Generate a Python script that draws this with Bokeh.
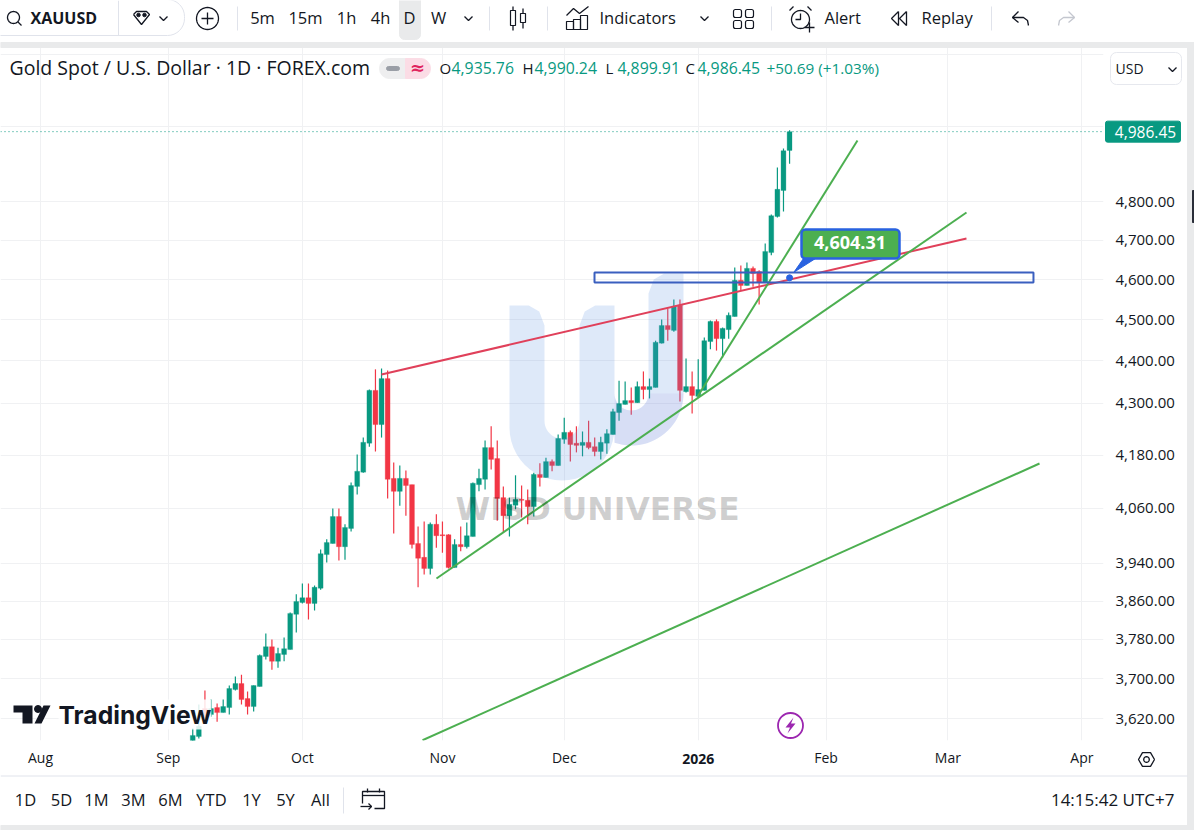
import math
from bokeh.plotting import figure
from bokeh.layouts import column
from bokeh.embed import file_html
from bokeh.resources import INLINE
from bokeh.core.properties import value
from bokeh.models import Range1d, FixedTicker, Label, Span, ColumnDataSource

# ---------- data ----------
first_index = 25
opens = [3573,3585,3640,3628,3642,3632,3642,3678,3690,3660,3644,3684,3745,3765,3735,3749,3759,3832,3857,3867,3855,3887,3959,3983,4042,3976,4016,4109,4141,4207,4330,4250,4358,4127,4098,4127,4113,3983,3953,3929,4025,4002,4002,3931,3981,3976,3998,4113,4125,4197,4172,4084,4044,4067,4080,4078,4064,4136,4129,4165,4156,4216,4232,4207,4202,4209,4199,4188,4207,4227,4278,4297,4306,4301,4339,4332,4337,4443,4486,4474,4536,4327,4339,4316,4330,4447,4496,4454,4476,4508,4598,4585,4628,4620,4593,4668,4761,4829,4935.76]
highs = [3601,3648,3676,3658,3650,3658,3686,3704,3708,3674,3686,3749,3792,3780,3763,3784,3836,3874,3897,3897,3893,3970,3992,4060,4060,4025,4118,4181,4220,4332,4380,4382,4377,4163,4156,4145,4113,4020,4031,4029,4047,4031,4003,3992,4020,4029,4118,4149,4213,4246,4213,4109,4084,4134,4111,4102,4140,4161,4174,4170,4227,4266,4236,4246,4234,4259,4220,4222,4239,4287,4353,4351,4337,4351,4375,4358,4449,4501,4528,4550,4550,4406,4375,4404,4457,4498,4501,4481,4518,4630,4635,4643,4633,4623,4691,4766,4890,4941,4990.24]
lows = [3569,3581,3616,3624,3614,3632,3628,3676,3648,3628,3634,3684,3739,3718,3722,3735,3759,3794,3855,3821,3840,3884,3942,3983,3946,3948,4009,4091,4140,4199,4188,4220,4082,4005,4066,4044,3972,3889,3916,3916,3974,3963,3929,3931,3966,3972,3998,4098,4102,4147,4033,4007,3998,4058,4040,4025,4042,4109,4129,4143,4156,4206,4165,4186,4177,4193,4177,4170,4183,4227,4259,4297,4273,4301,4309,4311,4337,4442,4449,4471,4304,4325,4276,4313,4330,4428,4425,4408,4454,4508,4573,4585,4582,4538,4593,4661,4758,4774,4899.91]
closes = [3587,3605,3624,3640,3632,3644,3680,3690,3658,3644,3686,3747,3765,3735,3751,3761,3834,3859,3867,3855,3889,3961,3985,4042,3976,4018,4111,4143,4209,4330,4250,4358,4125,4098,4127,4111,3981,3951,3929,4025,4000,4000,3931,3981,3976,4000,4116,4127,4197,4170,4082,4044,4069,4080,4078,4064,4136,4129,4165,4156,4218,4232,4204,4202,4209,4197,4188,4209,4229,4280,4299,4306,4301,4339,4332,4339,4445,4486,4476,4533,4330,4339,4318,4332,4449,4496,4454,4479,4511,4598,4585,4628,4615,4593,4671,4763,4832,4935,4986.45]

price_ticks = [5200,5000,4800,4700,4600,4500,4400,4300,4180,4060,3940,3860,3780,3700,3620]
month_labels = ["Aug","Sep","Oct","Nov","Dec","","Feb","Mar","Apr"]
month_index = [0,21,43,66,86,108,129,149,171]
year_label, year_index = "2026", 108

red_line = dict(x=[55.99,152.05], y=[4367.7,4704.0])
green_lines = dict(xs=[[107.9,134.15],[65.02,152.05],[62.73,164.04]],
                   ys=[[4315.6,4962.4],[3907.6,4771.3],[3577.6,4160.7]])
zone = dict(left=90.97, right=163.05, top=4617.6, bottom=4592.5)
marker_index, marker_price = 123, 4604.31
ohlc_parts = [("O","4,935.76",439),("H","4,990.24",522),("L","4,899.91",605),("C","4,986.45",685)]
change_text = "+50.69 (+1.03%)"

UP, DOWN = "#089981", "#f23645"
FONT = "Open Sans"
INK = "#131722"
W, H = 1194, 830

# ---------- page geometry helpers (page pixels <-> chart scales) ----------
FRAME_TOP, FRAME_BOTTOM, FRAME_RIGHT = 47, 740, 1103
STEP, ORIGIN = 6.09, 40
def ix(px): return (px-ORIGIN)/STEP
def pr(py): return 4800*math.exp((201-py)/1833)
def to_px(i): return ORIGIN+STEP*i
def to_py(v): return 201-1833*math.log(v/4800)

# ---------- chart ----------
p = figure(width=W, height=H, y_axis_type="log", y_axis_location="right",
           x_range=Range1d(ix(0), ix(FRAME_RIGHT)),
           y_range=Range1d(pr(FRAME_BOTTOM), pr(FRAME_TOP)),
           toolbar_location=None, output_backend="svg", frame_align=False,
           min_border_left=0, min_border_right=W-FRAME_RIGHT, min_border_top=FRAME_TOP, min_border_bottom=H-FRAME_BOTTOM,
           outline_line_color=None, background_fill_color="white", border_fill_color="white")

idx = list(range(first_index, first_index+len(closes)))
cols = [UP if c >= o else DOWN for o, c in zip(opens, closes)]
src = ColumnDataSource(dict(x=idx, o=opens, h=highs, l=lows, c=closes, col=cols))
p.segment(x0="x", x1="x", y0="l", y1="h", color="col", line_width=1.2, source=src)
p.vbar(x="x", width=0.8, top="o", bottom="c", fill_color="col", line_color="col", line_width=0.3, source=src)

# axes
p.yaxis.ticker = FixedTicker(ticks=price_ticks)
p.yaxis.major_label_overrides = {t: ("" if t == 5200 else f"{t:,.2f}") for t in price_ticks}
p.yaxis.axis_line_color = None
p.yaxis.major_tick_line_color = None
p.yaxis.minor_tick_line_color = None
p.yaxis.major_label_standoff = 6
p.yaxis.major_label_text_font = FONT
p.yaxis.major_label_text_font_size = "15px"
p.yaxis.major_label_text_color = INK
p.xaxis.ticker = FixedTicker(ticks=month_index)
p.xaxis.major_label_overrides = dict(zip(month_index, month_labels))
p.xaxis.axis_line_color = None
p.xaxis.major_tick_line_color = None
p.xaxis.minor_tick_line_color = None
p.xaxis.major_label_standoff = 1
p.xaxis.major_label_text_font = FONT
p.xaxis.major_label_text_font_size = "14px"
p.xaxis.major_label_text_color = INK
p.xgrid.grid_line_color = "#f0f1f3"
p.ygrid.grid_line_color = "#f0f1f3"
p.xgrid.ticker = FixedTicker(ticks=month_index)
p.ygrid.ticker = FixedTicker(ticks=price_ticks)

def poly(pts, fill, alpha=1.0, line=None):
    p.patch(x=[ix(a) for a, b in pts], y=[pr(b) for a, b in pts], fill_color=fill, fill_alpha=alpha,
            line_color=line)

# watermark logo
def arc(cx, cy, rx, ry, t0, t1, n=24):
    return [(cx-rx*math.cos(t0+(t1-t0)*k/n), cy+ry*math.sin(t0+(t1-t0)*k/n)) for k in range(n+1)]
s1 = 35
u1 = [(509,305)] + arc(561.5,427,52.5,53,0,math.pi) + [(614,305),(614-.55*s1,305),(614-.85*s1,311),(579,325)] \
     + arc(561.5,420.5,17.5,17.5,math.pi,0) + [(544,325),(544-.15*s1,311),(544-.45*s1,305)]
t_start = math.acos(17/52)
u2 = arc(631,393,52,52,t_start,math.pi) + [(683,273),(683-.55*s1,273),(683-.85*s1,279),(648,293)] \
     + arc(631,393,17,17,math.pi,0)
u2_low = arc(631,393,52,52,t_start,math.pi) + arc(631,393,17,17,math.pi,0)
poly(u1, "#5a8fe0", 0.2)
poly(u2, "#5a8fe0", 0.2)
poly(u2_low, "#7a50c0", 0.07)
p.add_layout(Label(x=455, y=FRAME_BOTTOM-508, x_units="screen", y_units="screen", text="WISD UNIVERSE",
                   text_font="DejaVu Sans", text_font_size="31.5px", text_font_style="bold",
                   text_color="#000000", text_alpha=0.19, text_baseline="middle"))

# TradingView logo
poly([(13,705),(32,705),(32,723),(22,723),(22,712),(13,712)], "#131722")
poly([(34,723),(43,705),(50,705),(41,723)], "#131722")
p.scatter(x=[ix(37.5)], y=[pr(708.5)], size=7, color="#131722")
p.add_layout(Label(x=58, y=FRAME_BOTTOM-714, x_units="screen", y_units="screen", text="TradingView",
                   text_font="Inter", text_font_size="24.7px", text_font_style="bold", text_color="#131722",
                   text_baseline="middle", background_fill_color="white", background_fill_alpha=0.85))

# drawings
p.line(x="x", y="y", source=ColumnDataSource(red_line), line_color="#e0405a", line_width=2)
p.multi_line(xs="xs", ys="ys", source=ColumnDataSource(green_lines), line_color="#4caf50", line_width=2)
p.quad(fill_alpha=0, line_color="#3a5fbf", line_width=2, **{k: [v] for k, v in zone.items()})

# callout
p.patch(x=[marker_index+0.7, ix(803), ix(815)], y=[marker_price*1.003, pr(258), pr(258)], fill_color="#2962e0", line_color="#2962e0")
p.quad(left=[ix(801)], right=[ix(899)], top=[pr(229)], bottom=[pr(258)], fill_color="#4caf50",
       line_color="#2962e0", line_width=2.5, border_radius=4)
p.scatter(x=[marker_index], y=[marker_price], size=6, color="#2962e0")
p.text(x=[ix(849.5)], y=[pr(241.5)], text=[f"{marker_price:,.2f}"], text_align="center", text_baseline="middle",
       text_font=value(FONT), text_font_size="18px", text_font_style="bold", text_color="white")

# lightning badge
p.scatter(x=[ix(790)], y=[pr(725)], size=25, fill_color="white", line_color="#9c27b0", line_width=1.8)
poly([(793,717),(785,727),(789.5,727),(787,733),(795,723),(790.5,723)], "#9c27b0")

# last price line
p.add_layout(Span(location=closes[-1], dimension="width", line_color=UP, line_dash="1 3", line_width=1))

# ---------- transparent page overlay: toolbars, legend, price tag ----------
o = figure(width=W, height=H, x_range=Range1d(0, W), y_range=Range1d(H, 0), x_axis_type=None, y_axis_type=None,
           toolbar_location=None, output_backend="svg", min_border=0, outline_line_color=None, frame_align=False,
           background_fill_alpha=0, border_fill_alpha=0, margin=(-H, 0, 0, 0))
o.xgrid.visible = False
o.ygrid.visible = False

def ttext(x, y, s, size=16.5, color=INK, align="center", style="normal", font=FONT):
    o.text(x=[x], y=[y], text=[s], text_align=align, text_baseline="middle", text_font=value(font),
           text_font_size=f"{size}px", text_font_style=style, text_color=color)
def seg(pts, color=INK, w=1.3):
    o.line(x=[a for a, b in pts], y=[b for a, b in pts], line_color=color, line_width=w)
def ring(x, y, r, color=INK, w=1.3):
    seg([(x+r*math.cos(2*math.pi*k/40), y+r*math.sin(2*math.pi*k/40)) for k in range(41)], color, w)
def chev(x, y, color=INK): seg([(x-4, y-2), (x, y+2), (x+4, y-2)], color)
def box(l, r, t, b, **kw): o.quad(left=[l], right=[r], top=[t], bottom=[b], **kw)

BAND = "#e9eaeb"
box(0, W, 42, 47, color=BAND)
box(0, W, 825, H, color=BAND)
box(1187, W, 47, H, color=BAND)
box(1192, W, 190, 222, color="#2a2e39")
box(-20, 184, -1, 35, fill_alpha=0, line_color="#e0e3eb", line_width=1, border_radius=17)
box(399, 420, -5, 39, color=BAND, border_radius=5)
seg([(118, 0), (118, 35)], "#e0e3eb", 1)
ring(13, 17, 6); seg([(17.5, 21.5), (21, 25)])
ttext(30, 17, "XAUUSD", size=16, align="left", style="bold")
seg([(133, 14), (136, 11), (146, 11), (149, 14), (141, 24), (133, 14)])
o.scatter(x=[138, 144], y=[14.5, 14.5], size=3.5, color=INK, marker="circle")
chev(163, 18)
ring(207, 18, 11); seg([(201, 18), (213, 18)]); seg([(207, 12), (207, 24)])
for x in [237, 489, 547, 771, 991]:
    seg([(x, 6), (x, 30)], "#e0e3eb", 1)
for s, x in [("5m", 262), ("15m", 305), ("1h", 346), ("4h", 380), ("D", 409), ("W", 438)]:
    ttext(x, 17, s)
chev(468, 18)
# candles icon
box(510, 515, 10, 25, fill_alpha=0, line_color=INK, line_width=1.2)
seg([(512.5, 6), (512.5, 10)]); seg([(512.5, 25), (512.5, 30)])
box(520, 525, 13, 22, fill_alpha=0, line_color=INK, line_width=1.2)
seg([(522.5, 8), (522.5, 13)]); seg([(522.5, 22), (522.5, 28)])
# indicators icon
seg([(566, 15), (573, 8), (579, 13), (588, 6)])
for x0, y0 in [(566, 21), (573, 19), (580, 15)]:
    box(x0, x0+7, y0, 29, fill_alpha=0, line_color=INK, line_width=1.2)
ttext(599, 17, "Indicators", align="left")
chev(704, 18)
# layout icon
for x0, y0 in [(733, 9), (745, 9), (733, 20), (745, 20)]:
    box(x0, x0+8, y0, y0+8, fill_alpha=0, line_color=INK, line_width=1.2, border_radius=2)
# alarm
ring(800, 19, 9); seg([(800, 13), (800, 19), (795, 19)])
seg([(789, 10), (793, 6)]); seg([(807, 6), (811, 10)])
seg([(804, 27), (814, 27)]); seg([(809, 22), (809, 32)])
ttext(824, 17, "Alert", align="left")
# replay
seg([(898, 11), (891, 18), (898, 25), (898, 11)]); seg([(906, 11), (899, 18), (906, 25), (906, 11)])
ttext(921, 17, "Replay", align="left")
# undo / redo
seg([(1018, 11), (1012, 17), (1018, 22)]); seg([(1012, 17), (1023, 17), (1027, 20), (1028, 25)])
seg([(1068, 11), (1074, 17), (1068, 22)], "#c4c7cf"); seg([(1074, 17), (1063, 17), (1059, 20), (1058, 25)], "#c4c7cf")

# legend header
ttext(9, 67, "Gold Spot / U.S. Dollar · 1D · FOREX.com", size=19.5, align="left")
box(379, 405, 58, 78, color="#eeeeef", border_radius=(10, 0, 0, 10))
box(405, 430, 58, 78, color="#fbdce5", border_radius=(0, 10, 10, 0))
box(386, 399, 66, 70, color="#9a9ea6", border_radius=2)
ttext(417, 67, "≈", size=18, color="#e0245e", style="bold", font="DejaVu Sans")
for letter, val, xpos in ohlc_parts:
    ttext(xpos, 67, letter, size=15, align="left")
    ttext(xpos+12, 67, val, size=15.8, color=UP, align="left")
ttext(766, 67, change_text, size=15.3, color=UP, align="left")

# currency button
box(1110, 1181, 52, 84, fill_color="white", line_color="#e6e8ee", line_width=1, border_radius=6)
ttext(1115, 68, "USD", size=14, align="left")
chev(1172, 69)

# last-price tag
yc = to_py(closes[-1])
box(1105, 1180, yc-10.5, yc+10.5, color=UP, border_radius=2)
ttext(1145, yc, f"{closes[-1]:,.2f}", size=15.5, color="white")

# bold year tick
ttext(to_px(year_index), 758, year_label, size=14, style="bold")

# settings icon
seg([(1146+8*math.cos(math.pi*k/3), 759+8*math.sin(math.pi*k/3)) for k in range(7)])
ring(1146, 759, 2.8)

# bottom toolbar
seg([(0, 775.5), (1187, 775.5)], "#e0e3eb", 1)
for s, x in [("1D", 25), ("5D", 61), ("1M", 96), ("3M", 133), ("6M", 170), ("YTD", 211), ("1Y", 251), ("5Y", 285), ("All", 320)]:
    ttext(x, 799, s)
seg([(343, 787), (343, 813)], "#e0e3eb", 1)
seg([(362, 803), (362, 791), (384, 791), (384, 808), (374, 808)])
seg([(362, 795), (384, 795)]); seg([(367, 788), (367, 792)]); seg([(379, 788), (379, 792)])
seg([(360, 806), (371, 806)]); seg([(368, 803), (371, 806), (368, 809)])
ttext(1174, 799, "14:15:42 UTC+7", size=17, align="right")

page = column(p, o, spacing=0)
open("out.html", "w").write(file_html(page, INLINE))
